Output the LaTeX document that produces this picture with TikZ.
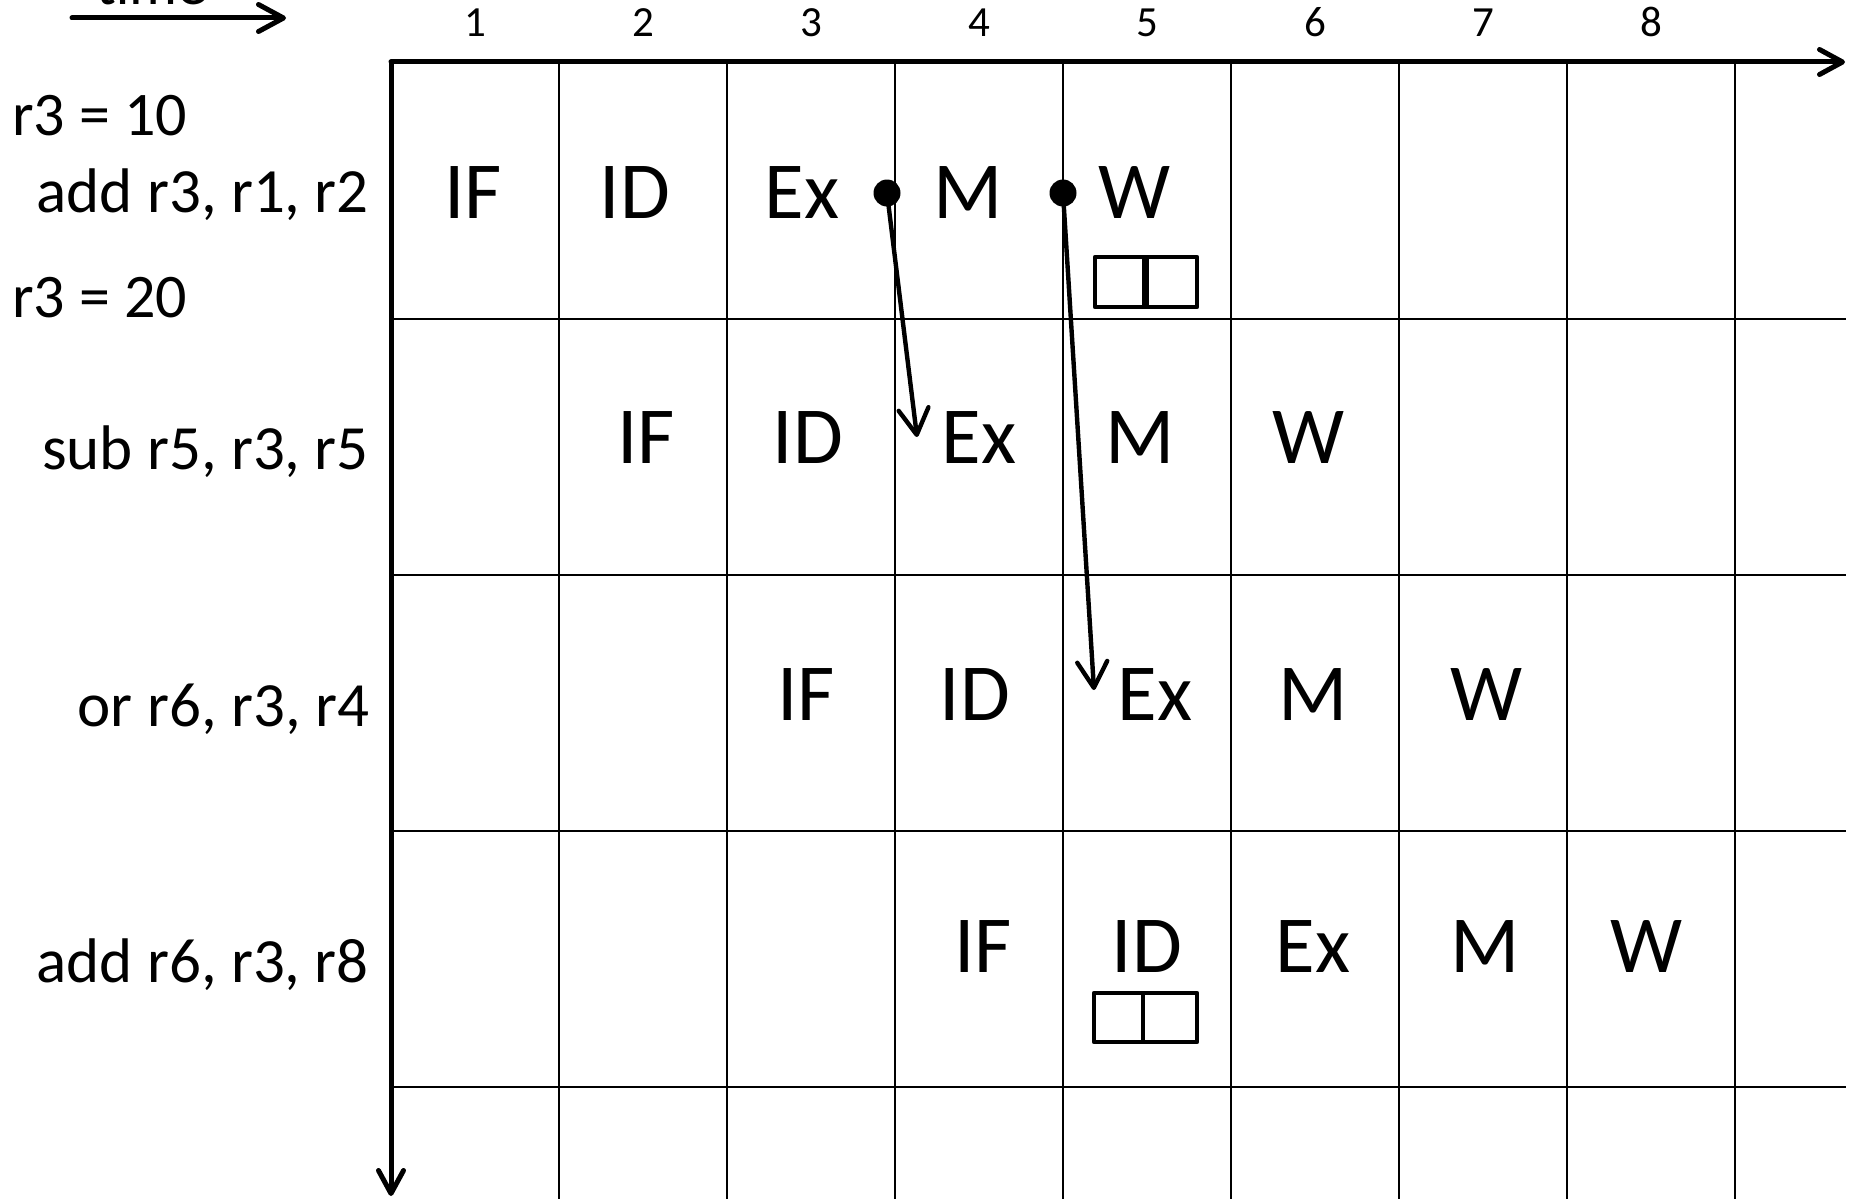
\documentclass[tikz,border=0pt]{standalone}
\usepackage{fontspec}
\setmainfont{Carlito}
\usetikzlibrary{arrows.meta}
\begin{document}
\begin{tikzpicture}[x=1pt,y=-1pt,
  stage/.style={anchor=base,inner sep=0pt,font=\fontsize{81}{81}\selectfont},
  instr/.style={anchor=base east,inner sep=0pt,font=\fontsize{63}{63}\selectfont},
  regval/.style={anchor=base west,inner sep=0pt,font=\fontsize{62}{62}\selectfont},
  cyc/.style={anchor=base,inner sep=0pt,font=\fontsize{43}{43}\selectfont},
  gridline/.style={line width=2.8pt},
  axis/.style={line width=5pt,line cap=round,-{Straight Barb[length=23pt,width=25pt,line cap=round,line join=round]}},
  fwd/.style={line width=4.4pt,line cap=round,-{Straight Barb[length=26pt,width=30pt,line cap=round,line join=round]}},
  dotnode/.style={circle,fill=black,inner sep=0pt,minimum size=27pt},
  regbox/.style={line width=4.2pt,line join=round}]
\useasboundingbox (0,0) rectangle (1858,1199);
\clip (0,0) rectangle (1858,1199);

% grid
\foreach \x in {559,727,895,1063,1231,1399,1567,1735}
  \draw[gridline] (\x,62) -- (\x,1199);
\foreach \y in {319,575,831,1087}
  \draw[gridline] (391,\y) -- (1846,\y);

% axes
\coordinate (origin) at (391,62);
\coordinate (xend) at (1845,62);
\coordinate (yend) at (391,1196);
\draw[axis] (origin) -- (xend);
\draw[axis] (origin) -- (yend);

% time arrow
\coordinate (ts) at (72,18);
\coordinate (te) at (286,18);
\draw[line width=5pt,line cap=round,-{Straight Barb[length=25pt,width=27pt,line cap=round,line join=round]}] (ts) -- (te);
\node[anchor=base,inner sep=0pt,font=\fontsize{60}{60}\selectfont] (time) at (152,5) {time};

% cycle numbers
\foreach \i in {1,...,8}
  \node[cyc] (c\i) at ({475+168*(\i-1)},37) {\i};

% left labels
\node[regval] (r10) at (12,135) {r3 = 10};
\node[instr] (i1) at (369,212) {add r3, r1, r2};
\node[regval] (r20) at (12,317) {r3 = 20};
\node[instr] (i2) at (369,469) {sub r5, r3, r5};
\node[instr] (i3) at (369,726) {or r6, r3, r4};
\node[instr] (i4) at (369,982) {add r6, r3, r8};

% row 1
\node[stage] (a1) at (473,218) {IF};
\node[stage] (a2) at (635,218) {ID};
\node[stage] (a3) at (802,218) {Ex};
\node[stage] (a4) at (968,218) {M};
\node[stage] (a5) at (1135,218) {W};
% row 2
\node[stage] (b1) at (646,463) {IF};
\node[stage] (b2) at (808,463) {ID};
\node[stage] (b3) at (979,463) {Ex};
\node[stage] (b4) at (1140,463) {M};
\node[stage] (b5) at (1309,463) {W};
% row 3
\node[stage] (e1) at (806,720) {IF};
\node[stage] (e2) at (975,720) {ID};
\node[stage] (e3) at (1155,720) {Ex};
\node[stage] (e4) at (1313,720) {M};
\node[stage] (e5) at (1487,720) {W};
% row 4
\node[stage] (f1) at (983,972) {IF};
\node[stage] (f2) at (1147,972) {ID};
\node[stage] (f3) at (1313,972) {Ex};
\node[stage] (f4) at (1485,972) {M};
\node[stage] (f5) at (1647,972) {W};

% register file boxes
\draw[regbox] (1095,257) rectangle (1197,307);
\draw[line width=7pt] (1145,257) -- (1145,307);
\draw[regbox] (1094,993) rectangle (1197,1042);
\draw[line width=4.2pt] (1143,993) -- (1143,1042);

% forwarding
\node[dotnode] (d1) at (887,193) {};
\node[dotnode] (d2) at (1063,193) {};
\coordinate (t1) at (917,437);
\coordinate (t2) at (1094,690);
\draw[fwd] (d1.center) -- (t1);
\draw[fwd] (d2.center) -- (t2);
\end{tikzpicture}
\end{document}
